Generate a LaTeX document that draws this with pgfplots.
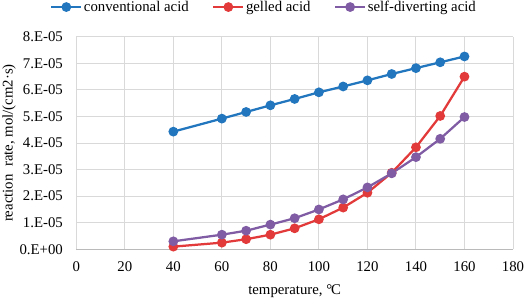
\documentclass[border=0pt]{standalone}
\usepackage{pgfplots}
\pgfplotsset{compat=1.18}
\usepackage{fontspec}
\setmainfont{Liberation Serif}
\definecolor{cblue}{RGB}{33,118,190}
\definecolor{cred}{RGB}{226,58,58}
\definecolor{cpurple}{RGB}{128,92,164}
\begin{document}
\begin{tikzpicture}[font=\fontsize{14.8bp}{17bp}\selectfont]
\useasboundingbox (-76.3bp,-49.7bp) rectangle (449.7bp,249.3bp);
\begin{axis}[
  scale only axis,
  width=436.7bp, height=212.5bp,
  xmin=0, xmax=180, ymin=0, ymax=8e-5,
  xtick={0,20,...,180},
  ytick={0,1e-5,2e-5,3e-5,4e-5,5e-5,6e-5,7e-5,8e-5},
  yticklabels={0.E+00,1.E-05,2.E-05,3.E-05,4.E-05,5.E-05,6.E-05,7.E-05,8.E-05},
  scaled y ticks=false,
  /pgf/number format/assume math mode=true,
  major tick length=0pt,
  axis x line*=bottom, axis y line*=left,
  x axis line style={draw=black!27, line width=1bp, -},
  y axis line style={draw=black!15, line width=1bp, -},
  grid=major,
  major grid style={draw=black!15, line width=1bp},
  xticklabel style={anchor=base, inner sep=0pt, yshift=-22.5bp},
  yticklabel style={anchor=east, inner sep=0pt, xshift=-13.3bp},
  xlabel={temperature, °\kern-0.08em C},
  ylabel={reaction\ \ rate, mol/(cm2·s)},
  x label style={at={(axis description cs:0.5,-0.2104)}, anchor=base, inner sep=0pt},
  y label style={at={(axis description cs:-0.1541,0.5)}, anchor=center, inner sep=0pt},
  legend columns=-1,
  legend style={at={(axis description cs:-0.0602,1.140)}, anchor=west, draw=none, fill=none,
    inner sep=0pt, nodes={inner sep=0pt},
    /tikz/every odd column/.append style={column sep=1.5bp},
    /tikz/every even column/.append style={column sep=23.5bp}},
  legend image code/.code={\draw[mark repeat=2,mark phase=2,#1] plot coordinates {(0bp,0bp) (15bp,0bp) (30bp,0bp)};},
  every axis plot/.append style={line width=2.25bp, mark=*, mark size=3.7bp, mark options={solid}},
]
\addplot[color=cblue] coordinates {
(40,4.43e-5) (60,4.92e-5) (70,5.17e-5) (80,5.42e-5) (90,5.66e-5) (100,5.91e-5)
(110,6.13e-5) (120,6.36e-5) (130,6.60e-5) (140,6.82e-5) (150,7.04e-5) (160,7.26e-5)};
\addlegendentry{conventional acid}
\addplot[color=cred] coordinates {
(40,0.10e-5) (60,0.25e-5) (70,0.38e-5) (80,0.55e-5) (90,0.79e-5) (100,1.13e-5)
(110,1.57e-5) (120,2.13e-5) (130,2.88e-5) (140,3.84e-5) (150,5.02e-5) (160,6.50e-5)};
\addlegendentry{gelled acid}
\addplot[color=cpurple] coordinates {
(40,0.30e-5) (60,0.55e-5) (70,0.70e-5) (80,0.93e-5) (90,1.17e-5) (100,1.50e-5)
(110,1.88e-5) (120,2.33e-5) (130,2.86e-5) (140,3.47e-5) (150,4.16e-5) (160,4.98e-5)};
\addlegendentry{self-diverting acid}
\end{axis}
\end{tikzpicture}
\end{document}
